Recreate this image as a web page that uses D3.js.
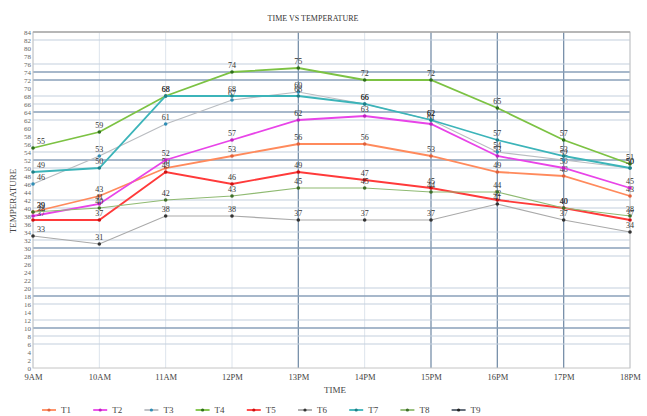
<!DOCTYPE html>
<html>
<head>
<meta charset="utf-8">
<script src="https://cdn.jsdelivr.net/npm/d3@7"></script>
<style>
  body { margin: 0; background: #fff; }
  svg { font-family: "Liberation Serif", "DejaVu Serif", serif; }
</style>
</head>
<body>
<div id="chart"></div>
<script>
const times = ['9AM', '10AM', '11AM', '12PM', '13PM', '14PM', '15PM', '16PM', '17PM', '18PM'];
const seriesNames = ['T1', 'T2', 'T3', 'T4', 'T5', 'T6', 'T7', 'T8', 'T9'];

const t1 = [39, 43, 50, 53, 56, 56, 53, 49, 48, 43];
const t2 = [38, 41, 52, 57, 62, 63, 61, 53, 50, 45];
const t3 = [46, 53, 61, 67, 69, 66, 62, 54, 52, 50];
const t4 = [55, 59, 68, 74, 75, 72, 72, 65, 57, 51];
const t5 = [37, 37, 49, 46, 49, 47, 45, 42, 40, 37];
const t6 = [33, 31, 38, 38, 37, 37, 37, 41, 37, 34];
const t7 = [49, 50, 68, 68, 68, 66, 62, 57, 53, 50];
const t8 = [39, 40, 42, 43, 45, 45, 44, 44, 40, 38];
const t9 = [];

const yTicks = d3.range(0, 85, 2);
const darkGrid = [74, 72, 64, 52, 30, 18, 10];
const lightGrid = [82, 76, 68, 66, 62, 54, 50, 42, 40, 34, 32, 28, 20, 16, 12, 8, 6];
const darkTimes = ['13PM', '15PM', '16PM', '17PM'];

const lineColors = ['#ff8a5c', '#e844e8', '#b9bcc0', '#7cc243', '#ff3a3a', '#a9a9a9', '#3cb4b9', '#8fba72', '#55606e'];
const markerColors = ['#e0603a', '#c020c0', '#2f8db5', '#2e6e1a', '#cc1010', '#333333', '#1f7f86', '#3f6e2a', '#222'];

const data = [t1, t2, t3, t4, t5, t6, t7, t8, t9];
const series = seriesNames.map((name, i) => ({
  name: name,
  color: lineColors[i],
  marker: markerColors[i],
  values: data[i].map((v, j) => ({ time: times[j], value: v }))
}));

const width = 647, height = 416;
const margin = { top: 32, right: 17, bottom: 48, left: 33 };

const svg = d3.select('#chart').append('svg')
  .attr('width', width)
  .attr('height', height);

const innerW = width - margin.left - margin.right;
const innerH = height - margin.top - margin.bottom;

const chart = svg.append('g')
  .attr('transform', `translate(${margin.left},${margin.top})`);

const xScale = d3.scalePoint().domain(times).range([0, innerW]);
const yScale = d3.scaleLinear().domain([0, 84]).range([innerH, 0]);

// vertical grid
chart.append('g').selectAll('line')
  .data(times)
  .join('line')
  .attr('x1', d => xScale(d)).attr('x2', d => xScale(d))
  .attr('y1', 0).attr('y2', innerH)
  .attr('stroke', d => darkTimes.includes(d) ? '#7890aa' : '#dde4ec')
  .attr('stroke-width', d => darkTimes.includes(d) ? 1.3 : 1);

// horizontal grid
chart.append('g').selectAll('line')
  .data(lightGrid)
  .join('line')
  .attr('x1', 0).attr('x2', innerW)
  .attr('y1', d => yScale(d)).attr('y2', d => yScale(d))
  .attr('stroke', '#c3cfdd')
  .attr('stroke-width', 1.2);

chart.append('g').selectAll('line')
  .data(darkGrid)
  .join('line')
  .attr('x1', 0).attr('x2', innerW)
  .attr('y1', d => yScale(d)).attr('y2', d => yScale(d))
  .attr('stroke', '#8aa0ba')
  .attr('stroke-width', 1.4);

// plot border
chart.append('rect')
  .attr('width', innerW).attr('height', innerH)
  .attr('fill', 'none')
  .attr('stroke', '#c4c4c4');
chart.append('line')
  .attr('x1', 0).attr('x2', innerW).attr('y1', 0).attr('y2', 0)
  .attr('stroke', '#a8a8a8').attr('stroke-width', 1.5);

// axes
const yAxis = d3.axisLeft(yScale).tickValues(yTicks).tickSize(0).tickPadding(2);
const xAxis = d3.axisBottom(xScale).tickSize(0).tickPadding(6);

chart.append('g').call(yAxis)
  .call(g => g.select('.domain').remove())
  .selectAll('text')
  .attr('font-family', '"Liberation Serif", serif')
  .attr('font-size', 7)
  .attr('fill', '#666');

chart.append('g')
  .attr('transform', `translate(0,${innerH})`)
  .call(xAxis)
  .call(g => g.select('.domain').remove())
  .selectAll('text')
  .attr('font-family', '"Liberation Serif", serif')
  .attr('font-size', 8.5)
  .attr('fill', '#444');

// lines
const line = d3.line()
  .x(d => xScale(d.time))
  .y(d => yScale(d.value));

const seriesG = chart.append('g').selectAll('g')
  .data(series.filter(s => s.values.length))
  .join('g');

seriesG.append('path')
  .attr('d', d => line(d.values))
  .attr('fill', 'none')
  .attr('stroke', d => d.color)
  .attr('stroke-width', d => (d.name === 'T3' || d.name === 'T6' || d.name === 'T8') ? 1.2 : 1.8);

seriesG.selectAll('circle')
  .data(d => d.values.map(v => ({ ...v, marker: d.marker })))
  .join('circle')
  .attr('cx', d => xScale(d.time))
  .attr('cy', d => yScale(d.value))
  .attr('r', 1.8)
  .attr('fill', d => d.marker);

seriesG.selectAll('text')
  .data(d => d.values)
  .join('text')
  .attr('x', d => xScale(d.time) + (d.time === '9AM' ? 8 : 0))
  .attr('y', d => yScale(d.value) - 4)
  .attr('text-anchor', 'middle')
  .attr('font-size', 8)
  .attr('fill', '#333')
  .text(d => d.value);

// titles
svg.append('text')
  .attr('x', 313).attr('y', 21)
  .attr('text-anchor', 'middle')
  .attr('font-size', 8)
  .attr('fill', '#333')
  .text('TIME VS TEMPERATURE');

svg.append('text')
  .attr('x', 335).attr('y', 393)
  .attr('text-anchor', 'middle')
  .attr('font-size', 9)
  .attr('fill', '#444')
  .text('TIME');

svg.append('text')
  .attr('transform', 'translate(16,201) rotate(-90)')
  .attr('text-anchor', 'middle')
  .attr('font-size', 9)
  .attr('fill', '#444')
  .text('TEMPERATURE');

// legend
const legend = svg.append('g')
  .attr('transform', 'translate(42,410)');

const item = legend.selectAll('g')
  .data(series)
  .join('g')
  .attr('transform', (d, i) => `translate(${i * 51.2},0)`);

item.append('line')
  .attr('x1', 0).attr('x2', 14)
  .attr('stroke', d => d.color)
  .attr('stroke-width', 1.8);

item.append('circle')
  .attr('cx', 7).attr('r', 1.6)
  .attr('fill', d => d.marker);

item.append('text')
  .attr('x', 19).attr('y', 3)
  .attr('font-size', 9)
  .attr('fill', '#444')
  .text(d => d.name);
</script>
</body>
</html>
